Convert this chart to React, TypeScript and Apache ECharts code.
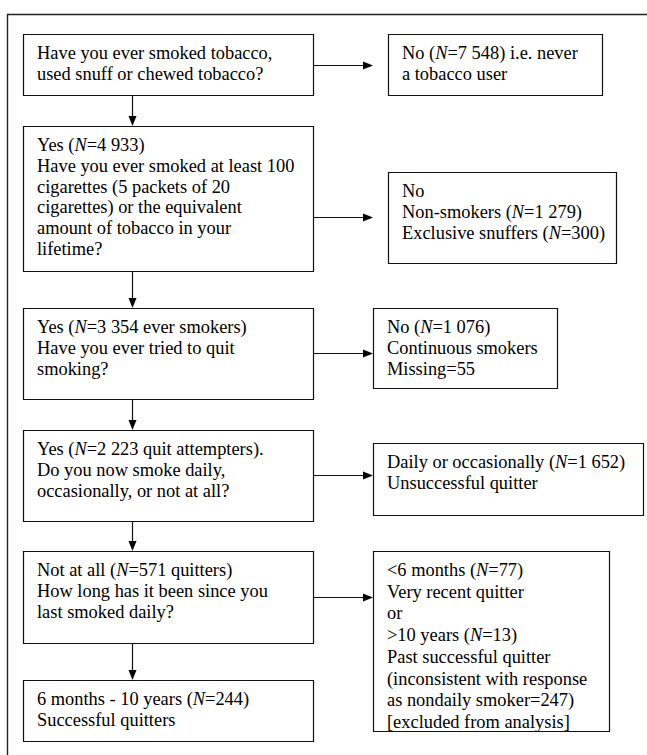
import React, { useEffect, useRef } from "react";
import * as echarts from "echarts";

// Flowchart texts ({n|N} = italic N)
const leftBoxTexts: string[][] = [
  ["Have you ever smoked tobacco,", "used snuff or chewed tobacco?"],
  [
    "Yes ({n|N}=4 933)",
    "Have you ever smoked at least 100",
    "cigarettes (5 packets of 20",
    "cigarettes) or the equivalent",
    "amount of tobacco in your",
    "lifetime?",
  ],
  ["Yes ({n|N}=3 354 ever smokers)", "Have you ever tried to quit", "smoking?"],
  ["Yes ({n|N}=2 223 quit attempters).", "Do you now smoke daily,", "occasionally, or not at all?"],
  ["Not at all ({n|N}=571 quitters)", "How long has it been since you", "last smoked daily?"],
  ["6 months - 10 years ({n|N}=244)", "Successful quitters"],
];

const rightBoxTexts: string[][] = [
  ["No ({n|N}=7 548) i.e. never", "a tobacco user"],
  ["No", "Non-smokers ({n|N}=1 279)", "Exclusive snuffers ({n|N}=300)"],
  ["No ({n|N}=1 076)", "Continuous smokers", "Missing=55"],
  ["Daily or occasionally ({n|N}=1 652)", "Unsuccessful quitter"],
  [
    "<6 months ({n|N}=77)",
    "Very recent quitter",
    "or",
    ">10 years ({n|N}=13)",
    "Past successful quitter",
    "(inconsistent with response",
    "as nondaily smoker=247)",
    "[excluded from analysis]",
  ],
];

// layout
const leftBoxes = [
  { x: 23, y: 34, w: 290, h: 61 },
  { x: 23, y: 126, w: 290, h: 145 },
  { x: 23, y: 308, w: 290, h: 91 },
  { x: 23, y: 430, w: 290, h: 91 },
  { x: 23, y: 551, w: 290, h: 92 },
  { x: 23, y: 680, w: 290, h: 61 },
];
const rightBoxes = [
  { x: 388, y: 34, w: 214, h: 61, lh: 20.8 },
  { x: 388, y: 172, w: 228, h: 91, lh: 20.8 },
  { x: 373, y: 308, w: 184, h: 80, lh: 20.8 },
  { x: 373, y: 443, w: 270, h: 72, lh: 20.8 },
  { x: 373, y: 551, w: 236, h: 180, lh: 21.7 },
];
const hArrowYs = [65, 217, 353, 475, 597];

const FONT = "'Liberation Serif', 'Times New Roman', serif";
const FS = 18.4;
const STROKE = "#111";

function textLines(lines: string[], x: number, top: number, lh: number) {
  return lines.map((t, i) => ({
    type: "text",
    x: x + 14,
    y: top + 19 + i * lh,
    style: {
      text: t,
      fill: "#000",
      fontFamily: FONT,
      fontSize: FS,
      verticalAlign: "middle",
      align: "left",
      rich: {
        n: { fontStyle: "italic", fontFamily: FONT, fontSize: FS, fill: "#000" },
      },
    },
  }));
}

function boxRect(b: { x: number; y: number; w: number; h: number }) {
  return {
    type: "rect",
    shape: { x: b.x + 0.5, y: b.y + 0.5, width: b.w, height: b.h },
    style: { fill: "#fff", stroke: STROKE, lineWidth: 1.2 },
  };
}

export default function App() {
  const ref = useRef<HTMLDivElement>(null);
  useEffect(() => {
    if (!ref.current) return;
    const chart = echarts.init(ref.current, undefined, { renderer: "svg" });
    const elements: any[] = [];
    // outer frame
    elements.push({
      type: "rect",
      shape: { x: 7.5, y: 14.5, width: 800, height: 900 },
      style: { fill: "#fff", stroke: "#222", lineWidth: 1.4 },
    });
    // vertical arrows
    const ax = 132;
    for (let i = 0; i < leftBoxes.length - 1; i++) {
      const y1 = leftBoxes[i].y + leftBoxes[i].h;
      const y2 = leftBoxes[i + 1].y;
      elements.push({
        type: "line",
        shape: { x1: ax + 0.5, y1, x2: ax + 0.5, y2: y2 - 8 },
        style: { stroke: STROKE, lineWidth: 1.2 },
      });
      elements.push({
        type: "polygon",
        shape: { points: [[ax + 0.5, y2], [ax - 3.5, y2 - 10], [ax + 4.5, y2 - 10]] },
        style: { fill: "#000" },
      });
    }
    // horizontal arrows
    hArrowYs.forEach((y) => {
      elements.push({
        type: "line",
        shape: { x1: 313, y1: y + 0.5, x2: 365, y2: y + 0.5 },
        style: { stroke: STROKE, lineWidth: 1.2 },
      });
      elements.push({
        type: "polygon",
        shape: { points: [[373, y + 0.5], [363, y - 3.5], [363, y + 4.5]] },
        style: { fill: "#000" },
      });
    });
    leftBoxes.forEach((b, i) => {
      elements.push(boxRect(b));
      elements.push(...textLines(leftBoxTexts[i], b.x, b.y, 20.8));
    });
    rightBoxes.forEach((b, i) => {
      elements.push(boxRect(b));
      elements.push(...textLines(rightBoxTexts[i], b.x, b.y, b.lh));
    });
    chart.setOption({
      animation: false,
      backgroundColor: "#fff",
      graphic: { elements },
    });
    return () => chart.dispose();
  }, []);
  return (
    <div
      ref={ref}
      style={{ position: "fixed", left: 0, top: 0, width: 647, height: 755 }}
    />
  );
}
